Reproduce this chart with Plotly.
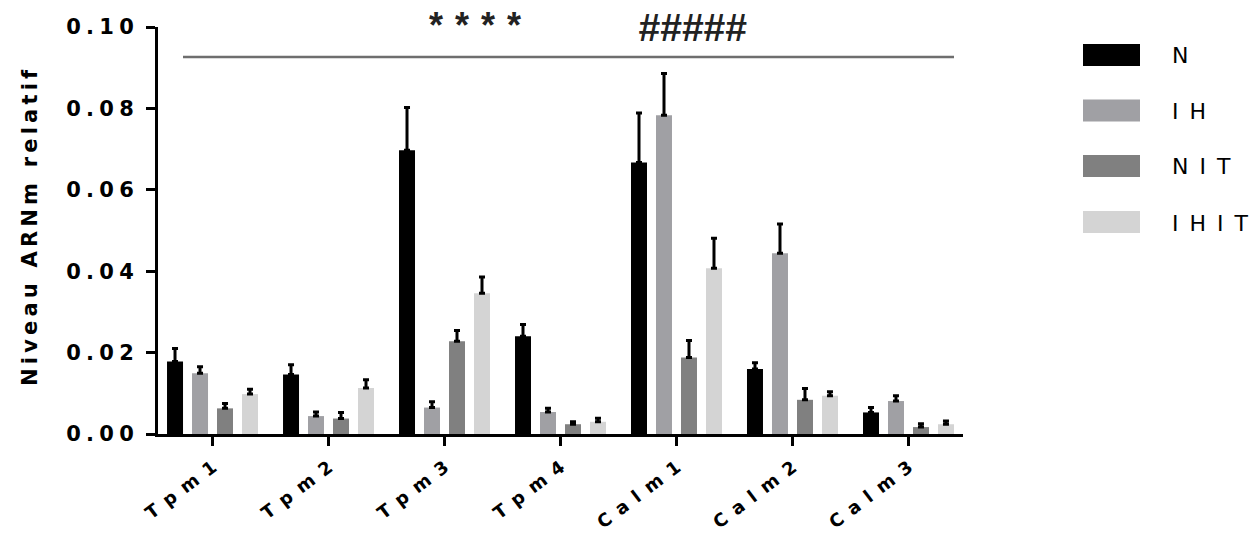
import plotly.graph_objects as go

categories = ["Tpm1", "Tpm2", "Tpm3", "Tpm4", "Calm1", "Calm2", "Calm3"]
series_names = ["N", "IH", "NIT", "IHIT"]
series_colors = ["#000000", "#a0a0a4", "#808080", "#d4d4d4"]

N_vals = [0.0178, 0.0146, 0.0697, 0.0240, 0.0667, 0.0160, 0.0053]
N_err = [0.0032, 0.0024, 0.0105, 0.0029, 0.0122, 0.0015, 0.0012]
IH_vals = [0.0149, 0.0044, 0.0065, 0.0054, 0.0783, 0.0444, 0.0081]
IH_err = [0.0016, 0.0010, 0.0014, 0.0009, 0.0103, 0.0072, 0.0013]
NIT_vals = [0.0063, 0.0038, 0.0228, 0.0024, 0.0188, 0.0084, 0.0017]
NIT_err = [0.0012, 0.0015, 0.0026, 0.0006, 0.0042, 0.0028, 0.0008]
IHIT_vals = [0.0098, 0.0113, 0.0346, 0.0030, 0.0407, 0.0094, 0.0024]
IHIT_err = [0.0012, 0.0020, 0.0040, 0.0009, 0.0074, 0.0010, 0.0008]

y_ticks = [0.0, 0.02, 0.04, 0.06, 0.08, 0.10]
y_title = "Niveau ARNm relatif"
sig_left = "****"
sig_right = "#####"

values = [N_vals, IH_vals, NIT_vals, IHIT_vals]
errors = [N_err, IH_err, NIT_err, IHIT_err]

EN = "\u2002"
TPE = "\u2004"
QS = "\u2005"
TH = "\u2009"
FONT = "DejaVu Sans, Verdana, sans-serif"
AFONT = "Liberation Sans, Arial, sans-serif"

fig = go.Figure()
for name, color, vals, errs in zip(series_names, series_colors, values, errors):
    fig.add_trace(go.Bar(
        x=categories, y=vals, name=name,
        marker=dict(color=color, line=dict(width=0)),
        error_y=dict(type="data", array=errs, arrayminus=[0] * len(errs),
                     symmetric=False, color="#000000", thickness=3, width=3),
        showlegend=False,
    ))

W, H = 1254, 536
L, R, T, B = 158, 291, 27, 102
pw = W - L - R
ph = H - T - B

def px_x(px):
    return (px - L) / pw

def px_y(py):
    return (H - B - py) / ph

fig.update_layout(
    width=W, height=H,
    margin=dict(l=L, r=R, t=T, b=B, autoexpand=False),
    paper_bgcolor="white", plot_bgcolor="white",
    barmode="group", bargap=0.138, bargroupgap=0.36,
    font=dict(family=FONT, color="#000000"),
    xaxis=dict(
        range=[-0.47, 6.47], showline=True, linecolor="#000000", linewidth=3,
        ticks="outside", ticklen=9, tickwidth=3, tickcolor="#000000",
        tickvals=categories, ticktext=[EN.join(c) for c in categories],
        tickangle=-37, tickfont=dict(size=18, weight="bold", family=FONT),
        ticklabelstandoff=4,
        showgrid=False, zeroline=False, fixedrange=True,
    ),
    yaxis=dict(
        range=[0, 0.10], showline=True, linecolor="#000000", linewidth=3,
        ticks="outside", ticklen=9, tickwidth=3, tickcolor="#000000",
        tickvals=y_ticks, ticktext=[QS.join(f"{v:.2f}") for v in y_ticks],
        tickfont=dict(size=21, weight="bold", family=FONT),
        ticklabelstandoff=8,
        showgrid=False, zeroline=False, fixedrange=True,
    ),
)

# y-axis title
fig.add_annotation(
    text=TH.join(y_title), xref="paper", yref="paper",
    x=px_x(30), y=px_y(228), xanchor="center", yanchor="middle",
    textangle=-90, showarrow=False,
    font=dict(size=21, weight="bold", family=FONT, color="#000000"),
)

# significance line and markers
fig.add_shape(type="line", xref="paper", yref="paper",
              x0=px_x(183), x1=px_x(954), y0=px_y(57), y1=px_y(57),
              line=dict(color="#6e6e6e", width=2.5))
fig.add_annotation(text=TPE.join(sig_left), xref="paper", yref="paper",
                   x=px_x(475), y=px_y(26), xanchor="center", yanchor="middle",
                   showarrow=False,
                   font=dict(size=36, weight="bold", family=AFONT, color="#222222"))
fig.add_annotation(text=sig_right, xref="paper", yref="paper",
                   x=px_x(692), y=px_y(28), xanchor="center", yanchor="middle",
                   showarrow=False,
                   font=dict(size=39, weight="bold", style="italic", family=AFONT,
                             color="#222222"))

# legend (manual)
legend_y = [55, 110.5, 166, 222]
for name, color, ly in zip(series_names, series_colors, legend_y):
    fig.add_shape(type="rect", xref="paper", yref="paper",
                  x0=px_x(1083), x1=px_x(1140), y0=px_y(ly - 11), y1=px_y(ly + 11),
                  fillcolor=color, line=dict(width=0))
    fig.add_annotation(text=EN.join(name), xref="paper", yref="paper",
                       x=px_x(1170), y=px_y(ly + 1), xanchor="left", yanchor="middle",
                       showarrow=False,
                       font=dict(size=22, family=FONT, color="#000000"))

fig.write_html("out.html", config={"displayModeBar": False},
               post_script="document.body.style.margin='0';")
